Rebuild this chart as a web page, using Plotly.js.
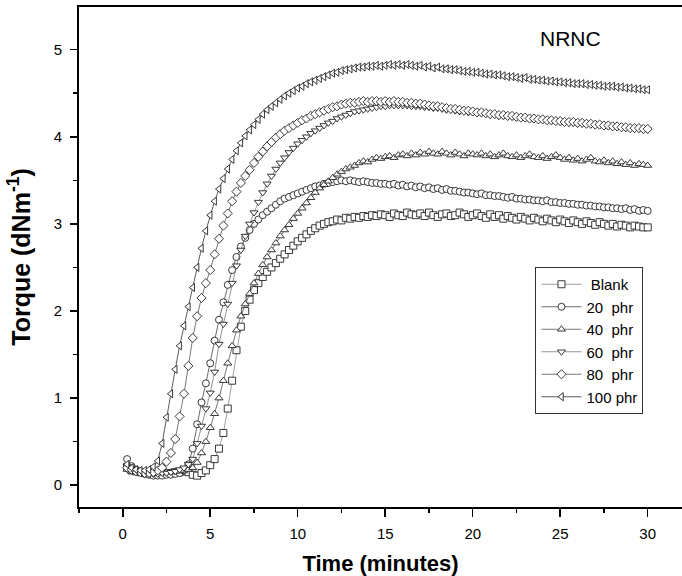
<!DOCTYPE html>
<html>
<head>
<meta charset="utf-8">
<script src="https://cdn.plot.ly/plotly-3.0.1.min.js"></script>
<style>html,body{margin:0;padding:0;background:#fff;}#chart{width:682px;height:576px;}</style>
</head>
<body>
<div id="chart"></div>
<script>
var time = [0.25,0.5,0.75,1,1.25,1.5,1.75,2,2.25,2.5,2.75,3,3.25,3.5,3.75,4,4.25,4.5,4.75,5,
5.25,5.5,5.75,6,6.25,6.5,6.75,7,7.25,7.5,7.75,8,8.25,8.5,8.75,9,9.25,9.5,9.75,10,
10.25,10.5,10.75,11,11.25,11.5,11.75,12,12.25,12.5,12.75,13,13.25,13.5,13.75,14,14.25,14.5,14.75,15,
15.25,15.5,15.75,16,16.25,16.5,16.75,17,17.25,17.5,17.75,18,18.25,18.5,18.75,19,19.25,19.5,19.75,20,
20.25,20.5,20.75,21,21.25,21.5,21.75,22,22.25,22.5,22.75,23,23.25,23.5,23.75,24,24.25,24.5,24.75,25,
25.25,25.5,25.75,26,26.25,26.5,26.75,27,27.25,27.5,27.75,28,28.25,28.5,28.75,29,29.25,29.5,29.75,30];

var blank = [0.21,0.17,0.16,0.15,0.14,0.14,0.13,0.13,0.14,0.13,0.14,0.15,0.15,0.16,0.15,0.12,0.11,0.14,0.17,0.23,
0.3,0.42,0.6,0.88,1.2,1.55,1.82,2.0,2.13,2.24,2.32,2.39,2.45,2.5,2.55,2.6,2.65,2.7,2.75,2.8,
2.84,2.88,2.92,2.95,2.98,3.0,3.02,3.03,3.05,3.04,3.07,3.06,3.08,3.07,3.09,3.08,3.1,3.09,3.11,3.1,
3.08,3.12,3.1,3.09,3.13,3.11,3.1,3.12,3.09,3.13,3.1,3.08,3.11,3.12,3.09,3.1,3.13,3.11,3.08,3.1,
3.12,3.09,3.07,3.11,3.08,3.1,3.06,3.09,3.07,3.05,3.08,3.06,3.04,3.07,3.05,3.03,3.06,3.04,3.02,3.05,
3.03,3.01,3.04,3.02,3.0,3.03,3.01,2.99,3.02,3.0,2.98,3.0,2.97,2.99,2.98,2.96,2.98,2.97,2.96,2.96];

var phr20 = [0.3,0.22,0.18,0.15,0.13,0.12,0.11,0.11,0.11,0.12,0.12,0.13,0.14,0.17,0.24,0.42,0.7,0.95,1.17,1.4,
1.66,1.9,2.1,2.3,2.47,2.62,2.74,2.84,2.93,3.0,3.05,3.1,3.14,3.18,3.22,3.26,3.29,3.31,3.33,3.35,
3.37,3.39,3.41,3.43,3.44,3.46,3.47,3.48,3.49,3.5,3.49,3.5,3.49,3.48,3.49,3.48,3.47,3.47,3.46,3.46,
3.45,3.46,3.44,3.45,3.43,3.44,3.42,3.43,3.41,3.42,3.4,3.41,3.39,3.4,3.38,3.38,3.37,3.36,3.36,3.35,
3.34,3.35,3.33,3.33,3.32,3.32,3.31,3.3,3.31,3.29,3.29,3.28,3.28,3.27,3.27,3.26,3.27,3.25,3.25,3.24,
3.24,3.23,3.23,3.22,3.22,3.21,3.21,3.2,3.2,3.19,3.19,3.18,3.18,3.17,3.18,3.16,3.17,3.15,3.16,3.15];

var phr40 = [0.18,0.16,0.15,0.14,0.13,0.13,0.13,0.14,0.14,0.15,0.15,0.16,0.16,0.17,0.18,0.2,0.26,0.37,0.5,0.66,
0.82,1.0,1.2,1.4,1.6,1.78,1.94,2.08,2.2,2.32,2.43,2.53,2.62,2.7,2.78,2.86,2.93,2.99,3.06,3.12,
3.18,3.24,3.3,3.36,3.41,3.45,3.49,3.53,3.57,3.6,3.63,3.65,3.67,3.7,3.72,3.71,3.74,3.76,3.75,3.77,
3.78,3.76,3.79,3.8,3.78,3.81,3.79,3.82,3.8,3.83,3.81,3.8,3.83,3.81,3.79,3.82,3.8,3.78,3.81,3.8,
3.79,3.81,3.78,3.8,3.77,3.79,3.81,3.78,3.77,3.79,3.76,3.78,3.8,3.77,3.76,3.78,3.75,3.77,3.79,3.76,
3.74,3.76,3.73,3.75,3.72,3.74,3.76,3.72,3.71,3.73,3.7,3.72,3.69,3.71,3.68,3.7,3.67,3.69,3.68,3.67];

var phr60 = [0.22,0.19,0.16,0.15,0.14,0.13,0.13,0.13,0.14,0.14,0.15,0.16,0.18,0.2,0.24,0.3,0.48,0.68,0.88,1.06,
1.3,1.62,1.85,2.08,2.32,2.52,2.7,2.86,3.0,3.13,3.25,3.36,3.46,3.55,3.63,3.7,3.76,3.82,3.87,3.92,
3.96,4.0,4.04,4.07,4.1,4.13,4.16,4.18,4.21,4.23,4.25,4.27,4.29,4.3,4.31,4.32,4.33,4.34,4.35,4.35,
4.36,4.36,4.36,4.36,4.36,4.35,4.35,4.35,4.34,4.34,4.33,4.33,4.32,4.31,4.31,4.3,4.29,4.29,4.28,4.28,
4.27,4.27,4.26,4.25,4.25,4.24,4.24,4.23,4.23,4.22,4.22,4.21,4.21,4.2,4.2,4.19,4.19,4.18,4.18,4.17,
4.17,4.16,4.16,4.15,4.15,4.15,4.14,4.14,4.13,4.13,4.12,4.12,4.11,4.11,4.1,4.1,4.09,4.09,4.08,4.08];

var phr80 = [0.2,0.18,0.16,0.15,0.14,0.14,0.15,0.17,0.2,0.27,0.37,0.53,0.79,1.05,1.37,1.69,1.94,2.15,2.32,2.47,
2.65,2.83,2.98,3.12,3.26,3.37,3.47,3.55,3.62,3.7,3.77,3.83,3.89,3.94,3.99,4.03,4.07,4.1,4.13,4.16,
4.19,4.21,4.24,4.26,4.28,4.3,4.32,4.34,4.35,4.37,4.38,4.39,4.39,4.4,4.41,4.4,4.41,4.41,4.4,4.41,
4.4,4.41,4.4,4.4,4.39,4.39,4.38,4.38,4.37,4.36,4.35,4.35,4.34,4.33,4.32,4.32,4.31,4.3,4.3,4.29,
4.28,4.28,4.27,4.26,4.26,4.25,4.25,4.24,4.24,4.23,4.22,4.22,4.21,4.21,4.2,4.2,4.19,4.19,4.18,4.18,
4.17,4.17,4.17,4.16,4.16,4.15,4.15,4.14,4.14,4.13,4.13,4.12,4.12,4.11,4.11,4.1,4.1,4.1,4.09,4.09];

var phr100 = [0.24,0.2,0.18,0.17,0.17,0.18,0.21,0.28,0.48,0.78,1.05,1.33,1.6,1.83,2.05,2.27,2.5,2.72,2.92,3.1,
3.26,3.4,3.52,3.63,3.74,3.84,3.93,4.01,4.08,4.14,4.2,4.26,4.31,4.35,4.39,4.43,4.47,4.5,4.53,4.56,
4.58,4.61,4.63,4.65,4.67,4.69,4.71,4.73,4.74,4.76,4.77,4.78,4.79,4.8,4.8,4.81,4.81,4.82,4.81,4.82,
4.83,4.82,4.83,4.82,4.83,4.82,4.81,4.82,4.8,4.81,4.79,4.8,4.78,4.78,4.77,4.77,4.76,4.75,4.75,4.74,
4.74,4.73,4.72,4.72,4.71,4.71,4.7,4.69,4.69,4.68,4.67,4.68,4.66,4.66,4.65,4.65,4.64,4.64,4.63,4.63,
4.62,4.62,4.61,4.61,4.61,4.6,4.6,4.59,4.59,4.58,4.58,4.58,4.57,4.57,4.56,4.56,4.55,4.55,4.54,4.54];

var names = ["\u00A0Blank", "20\u00A0\u00A0phr", "40\u00A0\u00A0phr", "60\u00A0\u00A0phr", "80\u00A0\u00A0phr", "100\u00A0phr"];
var series = [blank, phr20, phr40, phr60, phr80, phr100];
var symbols = ["square", "circle", "triangle-up", "triangle-down", "diamond", "triangle-left"];
var lineColors = ["#888888", "#444444", "#555555", "#777777", "#555555", "#333333"];

var traces = series.map(function (ys, i) {
  return {
    x: time, y: ys, name: names[i], type: "scatter", mode: "lines+markers",
    line: {color: lineColors[i], width: 0.8},
    marker: {symbol: symbols[i], size: 7, color: "white", line: {color: "#222", width: 0.9}}
  };
});

var font = "Liberation Sans, Arial, sans-serif";
var layout = {
  width: 682, height: 576,
  margin: {l: 79, r: 0, t: 7, b: 69},
  paper_bgcolor: "white", plot_bgcolor: "white",
  showlegend: true,
  legend: {
    x: 0.757, y: 0.48, xanchor: "left", yanchor: "top",
    bgcolor: "white", bordercolor: "#333", borderwidth: 1,
    font: {family: font, size: 15, color: "#000"},
    tracegroupgap: 0, itemwidth: 40
  },
  xaxis: {
    range: [-2.5, 31.96], tick0: 0, dtick: 5, ticks: "outside", ticklen: 8, tickwidth: 1.5,
    tickcolor: "#000", showline: true, linewidth: 2, linecolor: "#000", mirror: true,
    showgrid: false, zeroline: false,
    minor: {dtick: 2.5, ticks: "outside", ticklen: 4, tickwidth: 1.5, tickcolor: "#000"},
    tickfont: {family: font, size: 15, color: "#000"},
    ticklabelstandoff: 4,
    title: {text: "<b>Time (minutes)</b>", font: {family: font, size: 22, color: "#000"}, standoff: 16}
  },
  yaxis: {
    range: [-0.25, 5.49], tick0: 0, dtick: 1, ticks: "outside", ticklen: 7, tickwidth: 1.5,
    tickcolor: "#000", showline: true, linewidth: 2, linecolor: "#000", mirror: false,
    showgrid: false, zeroline: false,
    minor: {dtick: 0.5, ticks: "outside", ticklen: 4, tickwidth: 1.5, tickcolor: "#000"},
    tickfont: {family: font, size: 15, color: "#000"},
    ticklabelstandoff: 5,
    title: {text: "<b>Torque (dNm<sup>-1</sup>)</b>", font: {family: font, size: 25, color: "#000"}, standoff: 16}
  },
  annotations: [{
    text: "NRNC", xref: "x", yref: "y", x: 25.6, y: 5.13, showarrow: false,
    font: {family: font, size: 21, color: "#000"}, xanchor: "center", yanchor: "middle"
  }]
};

Plotly.newPlot("chart", traces, layout, {displayModeBar: false, staticPlot: true});
</script>
</body>
</html>
